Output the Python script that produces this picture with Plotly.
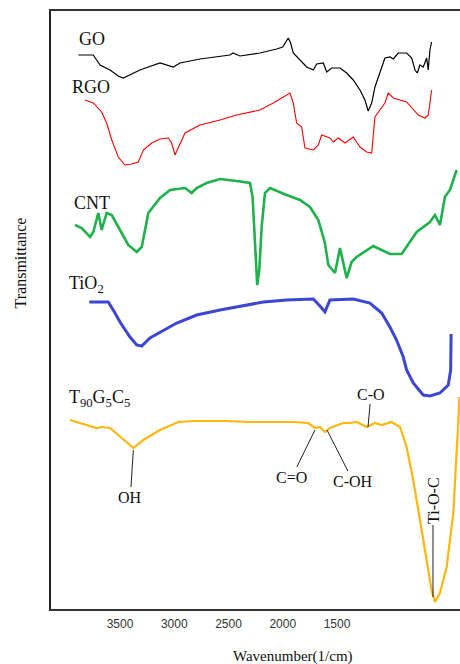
import plotly.graph_objects as go

# FTIR spectra, stacked with vertical offsets (arbitrary transmittance units)
go_wn = [3884, 3746, 3715, 3684, 3592, 3516, 3470, 3408, 3316, 3131, 3009, 2947, 2763, 2486, 2459,
         2394, 2210, 2056, 2000, 1949, 1927, 1903, 1841, 1779, 1718, 1687, 1626, 1595, 1549, 1472,
         1411, 1350, 1288, 1242, 1212, 1180, 1150, 1104, 1058, 1012, 981, 935, 858, 811, 781, 760,
         735, 705, 673, 659, 643, 628]
go_t = [554, 554, 549, 544, 539, 533, 531, 534, 539, 546, 542, 546, 550, 554, 556,
        553, 556, 560, 562, 571, 566, 556, 549, 542, 539, 545, 546, 537, 541, 541,
        536, 529, 519, 509, 498, 506, 522, 536, 551, 552, 550, 556, 556, 551, 539, 536,
        544, 542, 551, 539, 559, 567]

rgo_wn = [3823, 3746, 3669, 3623, 3576, 3516, 3454, 3392, 3331, 3285, 3208, 3131, 3055, 3024, 2993,
          2963, 2901, 2763, 2578, 2424, 2210, 2087, 1933, 1903, 1872, 1826, 1795, 1718, 1672, 1641,
          1565, 1534, 1488, 1426, 1350, 1288, 1226, 1180, 1150, 1104, 1058, 1027, 981, 858, 797,
          751, 689, 659, 643, 628]
rgo_t = [509, 506, 497, 486, 469, 452, 444, 445, 447, 459, 466, 470, 471, 466, 454,
         461, 476, 484, 489, 494, 499, 506, 516, 506, 486, 482, 461, 459, 464, 474,
         471, 467, 471, 466, 472, 462, 457, 456, 492, 499, 506, 516, 511, 507, 499,
         494, 491, 494, 506, 519]

cnt_wn = [3915, 3853, 3776, 3746, 3700, 3669, 3623, 3576, 3500, 3424, 3346, 3300, 3239, 3131, 3039,
          2901, 2839, 2793, 2701, 2578, 2424, 2302, 2278, 2256, 2235, 2216, 2194, 2164, 2118, 1964,
          1841, 1749, 1672, 1611, 1580, 1518, 1472, 1411, 1365, 1319, 1165, 1089, 1012, 904, 765,
          643, 597, 551, 505, 459, 397]
cnt_t = [384, 381, 372, 377, 396, 379, 396, 394, 379, 364, 357, 362, 396, 411, 419,
         421, 416, 421, 426, 430, 428, 426, 412, 366, 324, 339, 382, 416, 421, 414,
         409, 402, 389, 366, 344, 336, 361, 331, 347, 352, 363, 359, 355, 355, 377,
         387, 394, 384, 412, 419, 439]

tio2_wn = [3783, 3608, 3546, 3500, 3408, 3346, 3300, 3224, 2977, 2793, 2578, 2394, 2179, 1964, 1718,
           1657, 1611, 1565, 1350, 1196, 1088, 1012, 951, 889, 858, 797, 705, 643, 551, 474,
           452, 448]
tio2_t = [307, 307, 296, 287, 272, 264, 263, 271, 286, 294, 299, 303, 307, 309, 310,
          303, 297, 309, 310, 306, 296, 282, 269, 252, 239, 226, 214, 213, 216, 224,
          239, 275]

tgc_wn = [3961, 3807, 3715, 3669, 3592, 3484, 3377, 3285, 3131, 2963, 2824, 2517, 2318, 1903, 1765,
          1703, 1657, 1611, 1565, 1442, 1380, 1318, 1226, 1150, 1089, 996, 919, 858, 797, 735,
          673, 628, 597, 551, 489, 428, 382, 371]
tgc_t = [189, 184, 181, 182, 181, 171, 161, 169, 179, 187, 188, 188, 187, 187, 186,
         181, 182, 177, 181, 186, 186, 187, 182, 186, 184, 187, 182, 162, 129, 89,
         49, 19, 7, 16, 42, 96, 186, 212]

series = [
    ("GO", go_wn, go_t, "#000000", 1.2),
    ("RGO", rgo_wn, rgo_t, "#ff0000", 1.1),
    ("CNT", cnt_wn, cnt_t, "#1fb14b", 2.6),
    ("TiO<sub>2</sub>", tio2_wn, tio2_t, "#3c45d4", 3.0),
    ("T<sub>90</sub>G<sub>5</sub>C<sub>5</sub>", tgc_wn, tgc_t, "#ffb60f", 2.2),
]

# Name labels placed at the left end of each trace
label_wn = [3896, 3961, 3942, 3988, 3988]
label_t = [570, 522, 406, 325, 211]

# Band assignments on the composite spectrum: (text, wavenumber, value, dx, dy, angle)
bands = [
    ("OH", 3377, 159, -3, 47, 0),
    ("C=O", 1703, 179, -23, 47, 0),
    ("C-OH", 1592, 179, 26, 51, 0),
    ("C-O", 1214, 182, 3, -33, 0),
    ("Ti-O-C", 615, 12, 0, -97, -90),
]

tick_vals = [3500, 3000, 2500, 2000, 1500]

fig = go.Figure()
for name, wn, t, color, width in series:
    fig.add_trace(go.Scatter(x=wn, y=t, mode="lines", name=name,
                             line=dict(color=color, width=width),
                             hoverinfo="skip"))

serif = "Liberation Serif"
for (name, *_), lx, ly in zip(series, label_wn, label_t):
    fig.add_annotation(x=lx, y=ly, text=name, showarrow=False, xanchor="left",
                       yanchor="middle", font=dict(family=serif, size=18, color="#111"))

for text, bx, by, dx, dy, ang in bands:
    fig.add_annotation(x=bx, y=by, text=text, showarrow=True, arrowhead=0,
                       arrowwidth=1, arrowcolor="#222", ax=dx, ay=dy, textangle=ang,
                       standoff=0, font=dict(family=serif, size=16, color="#111"))

fig.add_annotation(xref="paper", yref="paper", x=0.592, y=-0.079, text="Wavenumber(1/cm)",
                   showarrow=False, xanchor="center", yanchor="middle",
                   font=dict(family=serif, size=15, color="#111"))
fig.add_annotation(xref="paper", yref="paper", x=-0.074, y=0.579, text="Transmittance",
                   showarrow=False, textangle=-90, xanchor="center", yanchor="middle",
                   font=dict(family=serif, size=16, color="#111"))

fig.update_layout(
    width=460, height=664,
    margin=dict(l=51, r=0, t=11, b=55),
    paper_bgcolor="white", plot_bgcolor="white",
    showlegend=False,
    xaxis=dict(range=[4136, 366], tickvals=tick_vals, ticks="", showgrid=False,
               zeroline=False, showline=True, linecolor="#333", linewidth=1.5,
               mirror=True, tickfont=dict(family="Liberation Sans", size=12, color="#333"),
               ticklabelstandoff=3),
    yaxis=dict(range=[0, 598], showticklabels=False, ticks="", showgrid=False,
               zeroline=False, showline=True, linecolor="#222", linewidth=1.5),
)

fig.write_html("out.html")
